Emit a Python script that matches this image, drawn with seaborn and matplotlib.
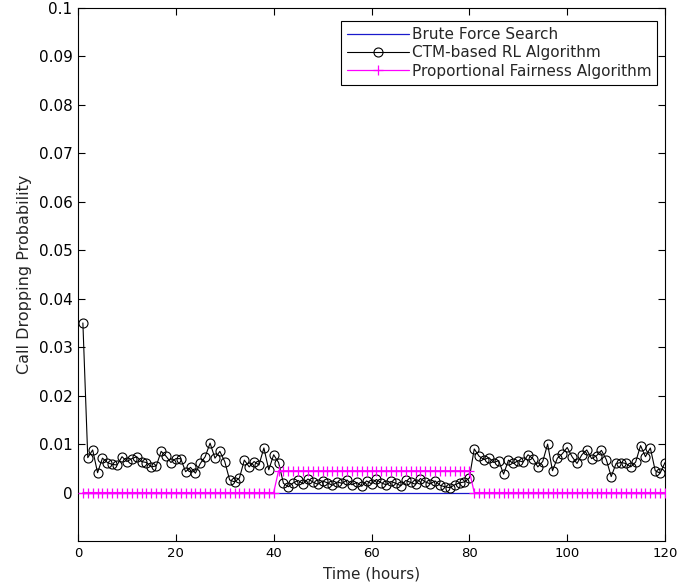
import matplotlib
matplotlib.use("Agg")
import matplotlib.pyplot as plt
import seaborn as sns
import pandas as pd

# Hourly call dropping probability for three resource allocation schemes
hours = list(range(1, 121))

brute_force = [
    0.0, 0.0, 0.0, 0.0, 0.0, 0.0, 0.0, 0.0, 0.0, 0.0,
    0.0, 0.0, 0.0, 0.0, 0.0, 0.0, 0.0, 0.0, 0.0, 0.0,
    0.0, 0.0, 0.0, 0.0, 0.0, 0.0, 0.0, 0.0, 0.0, 0.0,
    0.0, 0.0, 0.0, 0.0, 0.0, 0.0, 0.0, 0.0, 0.0, 0.0,
    0.0, 0.0, 0.0, 0.0, 0.0, 0.0, 0.0, 0.0, 0.0, 0.0,
    0.0, 0.0, 0.0, 0.0, 0.0, 0.0, 0.0, 0.0, 0.0, 0.0,
    0.0, 0.0, 0.0, 0.0, 0.0, 0.0, 0.0, 0.0, 0.0, 0.0,
    0.0, 0.0, 0.0, 0.0, 0.0, 0.0, 0.0, 0.0, 0.0, 0.0,
    0.0, 0.0, 0.0, 0.0, 0.0, 0.0, 0.0, 0.0, 0.0, 0.0,
    0.0, 0.0, 0.0, 0.0, 0.0, 0.0, 0.0, 0.0, 0.0, 0.0,
    0.0, 0.0, 0.0, 0.0, 0.0, 0.0, 0.0, 0.0, 0.0, 0.0,
    0.0, 0.0, 0.0, 0.0, 0.0, 0.0, 0.0, 0.0, 0.0, 0.0,
]

ctm_rl = [
    0.0350, 0.0072, 0.0088, 0.0041, 0.0071, 0.0062, 0.0058, 0.0057, 0.0074, 0.0064,
    0.0070, 0.0074, 0.0064, 0.0062, 0.0053, 0.0055, 0.0085, 0.0075, 0.0062, 0.0070,
    0.0070, 0.0043, 0.0052, 0.0040, 0.0060, 0.0074, 0.0102, 0.0071, 0.0085, 0.0064,
    0.0026, 0.0022, 0.0030, 0.0067, 0.0053, 0.0064, 0.0057, 0.0092, 0.0047, 0.0078,
    0.0062, 0.0019, 0.0012, 0.0020, 0.0025, 0.0018, 0.0028, 0.0022, 0.0017, 0.0024,
    0.0020, 0.0015, 0.0022, 0.0019, 0.0026, 0.0016, 0.0021, 0.0013, 0.0024, 0.0018,
    0.0027, 0.0020, 0.0016, 0.0023, 0.0019, 0.0014, 0.0025, 0.0021, 0.0017, 0.0029,
    0.0022, 0.0018, 0.0024, 0.0015, 0.0012, 0.0010, 0.0016, 0.0020, 0.0022, 0.0030,
    0.0090, 0.0075, 0.0068, 0.0072, 0.0062, 0.0066, 0.0038, 0.0067, 0.0060, 0.0066,
    0.0063, 0.0078, 0.0070, 0.0053, 0.0064, 0.0100, 0.0045, 0.0071, 0.0080, 0.0093,
    0.0074, 0.0060, 0.0078, 0.0088, 0.0070, 0.0076, 0.0087, 0.0068, 0.0033, 0.0060,
    0.0062, 0.0060, 0.0053, 0.0063, 0.0097, 0.0074, 0.0092, 0.0045, 0.0040, 0.0062,
]

prop_fairness = [
    0.0, 0.0, 0.0, 0.0, 0.0, 0.0, 0.0, 0.0, 0.0, 0.0,
    0.0, 0.0, 0.0, 0.0, 0.0, 0.0, 0.0, 0.0, 0.0, 0.0,
    0.0, 0.0, 0.0, 0.0, 0.0, 0.0, 0.0, 0.0, 0.0, 0.0,
    0.0, 0.0, 0.0, 0.0, 0.0, 0.0, 0.0, 0.0, 0.0, 0.0,
    0.0045, 0.0045, 0.0045, 0.0045, 0.0045, 0.0045, 0.0045, 0.0045, 0.0045, 0.0045,
    0.0045, 0.0045, 0.0045, 0.0045, 0.0045, 0.0045, 0.0045, 0.0045, 0.0045, 0.0045,
    0.0045, 0.0045, 0.0045, 0.0045, 0.0045, 0.0045, 0.0045, 0.0045, 0.0045, 0.0045,
    0.0045, 0.0045, 0.0045, 0.0045, 0.0045, 0.0045, 0.0045, 0.0045, 0.0045, 0.0045,
    0.0, 0.0, 0.0, 0.0, 0.0, 0.0, 0.0, 0.0, 0.0, 0.0,
    0.0, 0.0, 0.0, 0.0, 0.0, 0.0, 0.0, 0.0, 0.0, 0.0,
    0.0, 0.0, 0.0, 0.0, 0.0, 0.0, 0.0, 0.0, 0.0, 0.0,
    0.0, 0.0, 0.0, 0.0, 0.0, 0.0, 0.0, 0.0, 0.0, 0.0,
]

series_names = [
    "Brute Force Search",
    "CTM-based RL Algorithm",
    "Proportional Fairness Algorithm",
]

x_ticks = [0, 20, 40, 60, 80, 100, 120]
y_ticks = [0, 0.01, 0.02, 0.03, 0.04, 0.05, 0.06, 0.07, 0.08, 0.09, 0.1]
y_tick_labels = ["0", "0.01", "0.02", "0.03", "0.04", "0.05",
                 "0.06", "0.07", "0.08", "0.09", "0.1"]

sns.set_style("white")
plt.rcParams["font.family"] = ["DejaVu Sans"]
plt.rcParams["font.size"] = 11

df = pd.DataFrame({
    "hour": hours,
    series_names[0]: brute_force,
    series_names[1]: ctm_rl,
    series_names[2]: prop_fairness,
})

fig = plt.figure(figsize=(6.77, 5.88), dpi=100)
ax = fig.add_axes([0.1152, 0.0799, 0.8671, 0.9065])

sns.lineplot(data=df, x="hour", y=series_names[0], ax=ax, color="#1a1acc",
             linewidth=0.9, label=series_names[0], zorder=2)
sns.lineplot(data=df, x="hour", y=series_names[1], ax=ax, color="black",
             linewidth=0.8, marker="o", markersize=6.5, markerfacecolor="none",
             markeredgecolor="black", markeredgewidth=0.8,
             label=series_names[1], zorder=3)
sns.lineplot(data=df, x="hour", y=series_names[2], ax=ax, color="#ff00ff",
             linewidth=0.9, marker="+", markersize=7, markeredgewidth=0.9,
             markeredgecolor="#ff00ff", label=series_names[2], zorder=4)

ax.set_xlim(0, 120)
ax.set_ylim(-0.01, 0.1)
ax.set_xticks(x_ticks)
ax.set_xticklabels([str(t) for t in x_ticks])
ax.set_yticks(y_ticks)
ax.set_yticklabels(y_tick_labels)
ax.set_xlabel("Time (hours)", fontsize=11, labelpad=5)
ax.set_ylabel("Call Dropping Probability", fontsize=11.5, labelpad=5)

ax.tick_params(direction="in", length=5, width=0.8, top=True, right=True,
               bottom=True, left=True, colors="black", pad=4)
ax.tick_params(axis="y", labelsize=11)
ax.tick_params(axis="x", labelsize=9.5)
for spine in ax.spines.values():
    spine.set_visible(True)
    spine.set_color("black")
    spine.set_linewidth(0.8)

leg = ax.legend(loc="upper right", bbox_to_anchor=(0.987, 0.975),
                frameon=True, fancybox=False, edgecolor="black",
                framealpha=1, fontsize=11, handlelength=4.0,
                handletextpad=0.2, borderpad=0.4, labelspacing=0.2,
                borderaxespad=0.0)
leg.get_frame().set_linewidth(0.8)

fig.savefig("out.png", dpi=100)
